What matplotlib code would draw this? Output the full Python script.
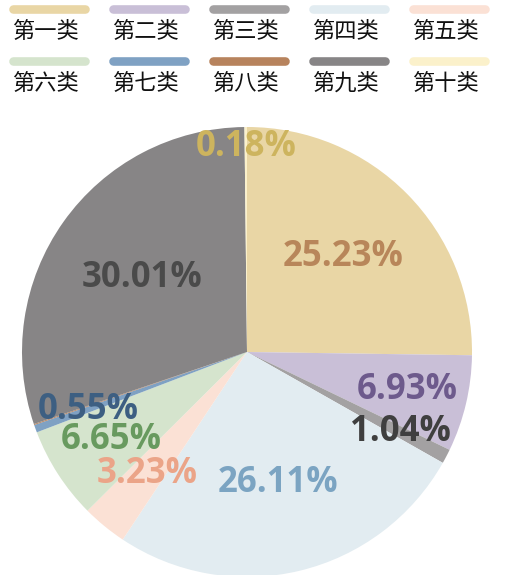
import numpy as np
import matplotlib.pyplot as plt

plt.rcParams['font.family'] = ['Noto Sans CJK SC', 'DejaVu Sans']

# data
categories = ["第一类", "第二类", "第三类", "第四类", "第五类",
              "第六类", "第七类", "第八类", "第九类", "第十类"]
shares = [25.23, 6.93, 1.04, 26.11, 3.23, 6.65, 0.55, 0.07, 30.01, 0.18]
show_label = [True, True, True, True, True, True, True, False, True, True]

# styles
slice_colors = ["#e9d6a5", "#c9bfd7", "#a3a1a2", "#e2ecf1", "#fbe1d5",
                "#d5e4cd", "#7fa1c3", "#b7835d", "#878586", "#fbf1cb"]
label_colors = ["#b8865a", "#6d5a8c", "#3f3f3f", "#7ba4c2", "#eba488",
                "#689a5f", "#3d5f82", "#b7835d", "#4a4a4a", "#cdb45e"]
label_dist = [0.60, 0.73, 0.77, 0.60, 0.70, 0.72, 0.75, 0.7, 0.57, 0.91]

W, H = 515, 575
fig = plt.figure(figsize=(W / 100, H / 100), dpi=100)
ax = fig.add_axes([0, 0, 1, 1])

cx, cy, R = 247, H - 352, 225

wedges, _ = ax.pie(shares, colors=slice_colors, startangle=90,
                   counterclock=False, center=(cx, cy), radius=R,
                   wedgeprops=dict(linewidth=0), frame=True)
ax.set_xlim(0, W)
ax.set_ylim(0, H)
ax.axis("off")

for w, show, col, d, val in zip(wedges, show_label, label_colors,
                                label_dist, shares):
    if not show:
        continue
    mid = np.deg2rad((w.theta1 + w.theta2) / 2)
    ax.text(cx + d * R * np.cos(mid), cy + d * R * np.sin(mid),
            f"{val:.2f}%", color=col, fontsize=25, fontweight="bold",
            family=["Open Sans", "DejaVu Sans"],
            ha="center", va="center")

# legend: rounded bars with names underneath
for i, (name, col) in enumerate(zip(categories, slice_colors)):
    row, c = divmod(i, 5)
    x0 = 9 + c * 100
    ybar = H - (9 + row * 52)
    ax.plot([x0 + 4, x0 + 76], [ybar, ybar], color=col, lw=6.2,
            solid_capstyle="round")
    ax.text(x0 + 36, H - (31 + row * 52), name, fontsize=16,
            color="#111111", ha="center", va="center")

fig.savefig("out.png", dpi=100)
